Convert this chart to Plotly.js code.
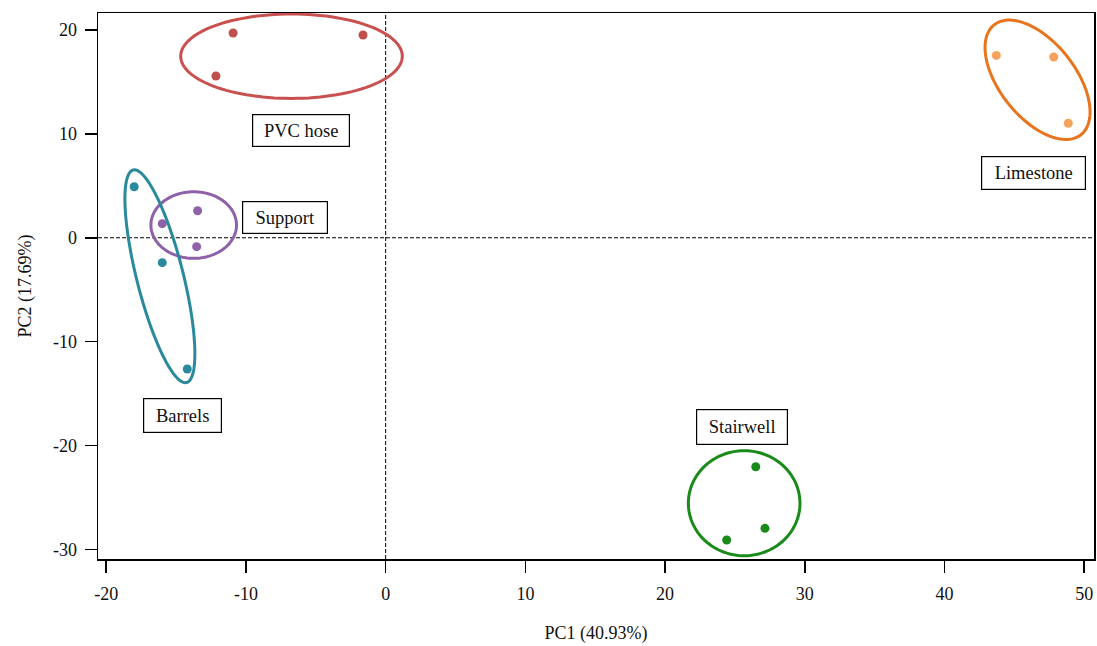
<!DOCTYPE html>
<html><head><meta charset="utf-8">
<script src="https://cdn.plot.ly/plotly-3.0.1.min.js"></script>
<style>body{margin:0;background:#fff}#c{width:1097px;height:646px}</style>
</head><body><div id="c"></div>
<script>
// ---- data ----
const groups = ["PVC hose", "Support", "Barrels", "Limestone", "Stairwell"];
const pvcX = [-10.92, -1.62, -12.15];
const pvcY = [19.71, 19.52, 15.57];
const supportX = [-13.46, -15.99, -13.53];
const supportY = [2.60, 1.36, -0.86];
const barrelsX = [-18.0, -15.99, -14.20];
const barrelsY = [4.91, -2.40, -12.64];
const limestoneX = [43.71, 47.82, 48.86];
const limestoneY = [17.56, 17.40, 11.02];
const stairwellX = [26.49, 27.15, 24.41];
const stairwellY = [-22.05, -27.98, -29.10];
const xTickVals = [-20, -10, 0, 10, 20, 30, 40, 50];
const xTickText = ["-20", "-10", "0", "10", "20", "30", "40", "50"];
const yTickVals = [-30, -20, -10, 0, 10, 20];
const yTickText = ["-30", "-20", "-10", "0", "10", "20"];
const xTitle = "PC1 (40.93%)";
const yTitle = "PC2 (17.69%)";

// ---- layout / styling ----
const W = 1097, H = 646;
const M = {l: 98, r: 3, t: 13, b: 87};
const xr = [-20.59, 50.7], yr = [-30.93, 21.64];
const sx = (W - M.l - M.r) / (xr[1] - xr[0]);
const sy = (H - M.t - M.b) / (yr[1] - yr[0]);

const pointColors = ["#c0504d", "#8e62a8", "#2a8a9c", "#f5a35c", "#1a8a1a"];
const ringColors  = ["#c8514f", "#8e62a8", "#2a8a9c", "#e8741e", "#1a8a1a"];
const xs = [pvcX, supportX, barrelsX, limestoneX, stairwellX];
const ys = [pvcY, supportY, barrelsY, limestoneY, stairwellY];

// ellipse: center (data), semi-axes (px), angle (deg, screen)
const rings = [
  {cx: -6.74, cy: 17.48, a: 110.8, b: 42.2, ang: 0},
  {cx: -13.74, cy: 1.225, a: 42.8, b: 33.3, ang: 0},
  {cx: -16.16, cy: -3.71, a: 109.6, b: 23.3, ang: 75.9},
  {cx: 46.66, cy: 15.21, a: 70, b: 37.7, ang: 51.7},
  {cx: 25.66, cy: -25.56, a: 55.8, b: 52.5, ang: 0}
];
function ellipsePath(e) {
  const th = e.ang * Math.PI / 180, n = 120;
  let p = "";
  for (let i = 0; i <= n; i++) {
    const t = 2 * Math.PI * i / n;
    const dx = e.a * Math.cos(t) * Math.cos(th) - e.b * Math.sin(t) * Math.sin(th);
    const dy = e.a * Math.cos(t) * Math.sin(th) + e.b * Math.sin(t) * Math.cos(th);
    p += (i ? "L" : "M") + (e.cx + dx / sx).toFixed(4) + "," + (e.cy - dy / sy).toFixed(4);
  }
  return p + "Z";
}

const labelPos = [[-6.08, 10.30], [-7.17, 1.95], [-14.52, -17.07], [46.36, 6.23], [25.49, -18.24]];
const labelW = [98, 86, 79, 105, 92];
const labelH = [33, 33, 35, 34, 36];

const traces = groups.map((g, i) => ({
  type: "scatter", mode: "markers", name: g, x: xs[i], y: ys[i],
  marker: {color: pointColors[i], size: 9}, hoverinfo: "x+y+name"
}));

const shapes = rings.map((e, i) => ({
  type: "path", xref: "x", yref: "y", path: ellipsePath(e),
  line: {color: ringColors[i], width: 3}, layer: "above"
}));
shapes.push({type: "line", xref: "x", yref: "paper", x0: 0, x1: 0, y0: 0, y1: 1,
  line: {color: "#000", width: 1, dash: "4px,2px"}, layer: "below"});
shapes.push({type: "line", xref: "paper", yref: "y", x0: 0, x1: 1, y0: 0, y1: 0,
  line: {color: "#000", width: 1, dash: "4px,2px"}, layer: "below"});

const serif = "Liberation Serif, Times New Roman, serif";
const annotations = groups.map((g, i) => ({
  x: labelPos[i][0], y: labelPos[i][1], xref: "x", yref: "y", text: g, showarrow: false,
  font: {family: serif, size: 18.5, color: "#111"},
  bgcolor: "#fff", bordercolor: "#000", borderwidth: 1.2, borderpad: 0,
  width: labelW[i] - 2, height: labelH[i] - 2, align: "center", valign: "middle"
}));

const axisFont = {family: serif, size: 18, color: "#111"};
const layout = {
  width: W, height: H, margin: M, showlegend: false,
  paper_bgcolor: "#fff", plot_bgcolor: "#fff",
  font: axisFont,
  xaxis: {range: xr, showgrid: false, zeroline: false, showline: true, mirror: true,
    linecolor: "#000", linewidth: 1.5, ticks: "outside", ticklen: 12, tickwidth: 1.5, tickcolor: "#000",
    tickmode: "array", tickvals: xTickVals, ticktext: xTickText, tickfont: axisFont, ticklabelstandoff: 6,
    title: {text: xTitle, font: axisFont, standoff: 23}},
  yaxis: {range: yr, showgrid: false, zeroline: false, showline: true, mirror: true,
    linecolor: "#000", linewidth: 1.5, ticks: "outside", ticklen: 12, tickwidth: 1.5, tickcolor: "#000",
    tickmode: "array", tickvals: yTickVals, ticktext: yTickText, tickfont: axisFont, ticklabelstandoff: 4,
    title: {text: yTitle, font: axisFont, standoff: 16}},
  shapes: shapes, annotations: annotations
};
Plotly.newPlot("c", traces, layout, {displayModeBar: false, staticPlot: true});
</script></body></html>
